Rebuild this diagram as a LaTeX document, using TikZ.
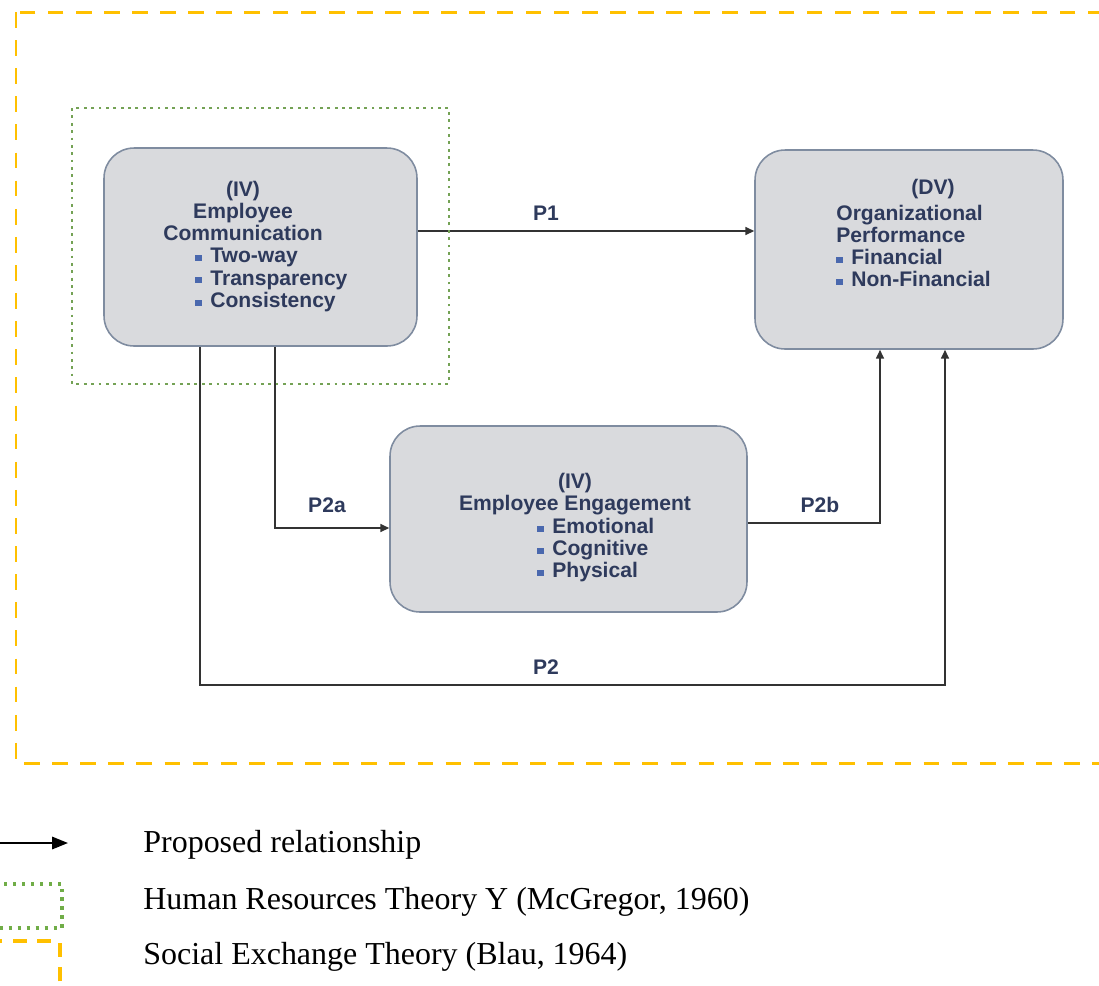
\documentclass[tikz,border=0pt]{standalone}
\usepackage{fontspec}
\setmainfont{Liberation Serif}
\newfontfamily\boxfont{Liberation Sans}
\usetikzlibrary{positioning,arrows.meta}
\definecolor{boxfill}{HTML}{D9DADD}
\definecolor{boxline}{HTML}{7F8CA0}
\definecolor{navy}{HTML}{2E3A5C}
\definecolor{bulblue}{HTML}{4A68AE}
\definecolor{theoryy}{HTML}{70AD47}
\definecolor{socexch}{HTML}{FFC000}
\newcommand{\sqbul}{{\color{bulblue}\rule[0.15ex]{0.14cm}{0.12cm}}\hspace{0.16cm}}

\begin{document}
\begin{tikzpicture}[x=0.02cm, y=-0.02cm,
    box/.style={draw=boxline, line width=0.9pt, fill=boxfill, rounded corners=0.6cm},
    txt/.style={font=\boxfont\bfseries\fontsize{12}{12.6}\selectfont, text=navy, inner sep=0pt},
    rel/.style={draw=black!80, line width=0.8pt, -{Triangle[length=5pt,width=4.5pt]}},
    hrframe/.style={draw=theoryy!75!gray, line width=1.3pt, dash pattern=on 1.6pt off 2.6pt},
    seframe/.style={draw=socexch, line width=1.7pt, dash pattern=on 9pt off 7pt},
    legtxt/.style={font=\fontsize{18.2}{21}\selectfont, anchor=west, inner sep=0pt}]
  \useasboundingbox (0,0) rectangle (1099,985);
  \draw[seframe] (16,12) rectangle (1130,763);

  \node (comm) [box, minimum width=6.26cm, minimum height=3.96cm] at (260.5,247) {};
  \node (perf) [box, minimum width=6.16cm, minimum height=3.98cm] at (909,249.5) {};
  \node (eng)  [box, minimum width=7.14cm, minimum height=3.72cm] at (568.5,519) {};

  \node (commhead) [txt, align=center] at (243,211) {(IV)\\Employee\\Communication};
  \node (commlist) [txt, align=left, anchor=west] at (195,280) {\sqbul Two-way\\\sqbul Transparency\\\sqbul Consistency};
  \node (perfhead) [txt] at (933,189) {(DV)};
  \node (perflist) [txt, align=left, anchor=west] at (836,246) {Organizational\\Performance\\\sqbul Financial\\\sqbul Non-Financial};
  \node (enghead)  [txt, align=center] at (575,494) {(IV)\\Employee Engagement};
  \node (englist)  [txt, align=left, anchor=west] at (537,550) {\sqbul Emotional\\\sqbul Cognitive\\\sqbul Physical};

  \coordinate (p1)  at (0,231);
  \coordinate (p2a) at (275,528);
  \coordinate (p2b) at (880,523);
  \coordinate (p2s) at (200,685);
  \coordinate (p2e) at (945,685);
  \draw[rel] (comm.east |- p1) -- (perf.west |- p1);
  \draw[rel] (comm.south -| p2a) |- (eng.west |- p2a);
  \draw[rel] (eng.east |- p2b) -| (perf.south -| p2b);
  \draw[rel] (comm.south -| p2s) -- (p2s) -- (p2e) -- (perf.south -| p2e);
  \node (lp1)  [txt] at (546,213) {P1};
  \node (lp2a) [txt] at (327,505) {P2a};
  \node (lp2b) [txt] at (820,505) {P2b};
  \node (lp2)  [txt] at (546,667) {P2};

  \draw[hrframe] (72,108) rectangle (449,384);

  \coordinate (legs) at (-5,843);
  \coordinate (lege) at (68,843);
  \draw[black, line width=1.1pt, -{Triangle[length=9pt,width=7pt]}] (legs) -- (lege);
  \draw[hrframe, draw=theoryy, line width=1.8pt, dash pattern=on 1.8pt off 3.3pt] (-10,884) rectangle (62,928);
  \draw[seframe, line width=1.8pt, dash pattern=on 8pt off 6pt] (-10,941) rectangle (60,1000);
  \node (legrel) [legtxt] at (143,845) {Proposed relationship};
  \node (legy)   [legtxt] at (143,902) {Human Resources Theory Y (McGregor, 1960)};
  \node (legse)  [legtxt] at (143,957) {Social Exchange Theory (Blau, 1964)};
\end{tikzpicture}
\end{document}
